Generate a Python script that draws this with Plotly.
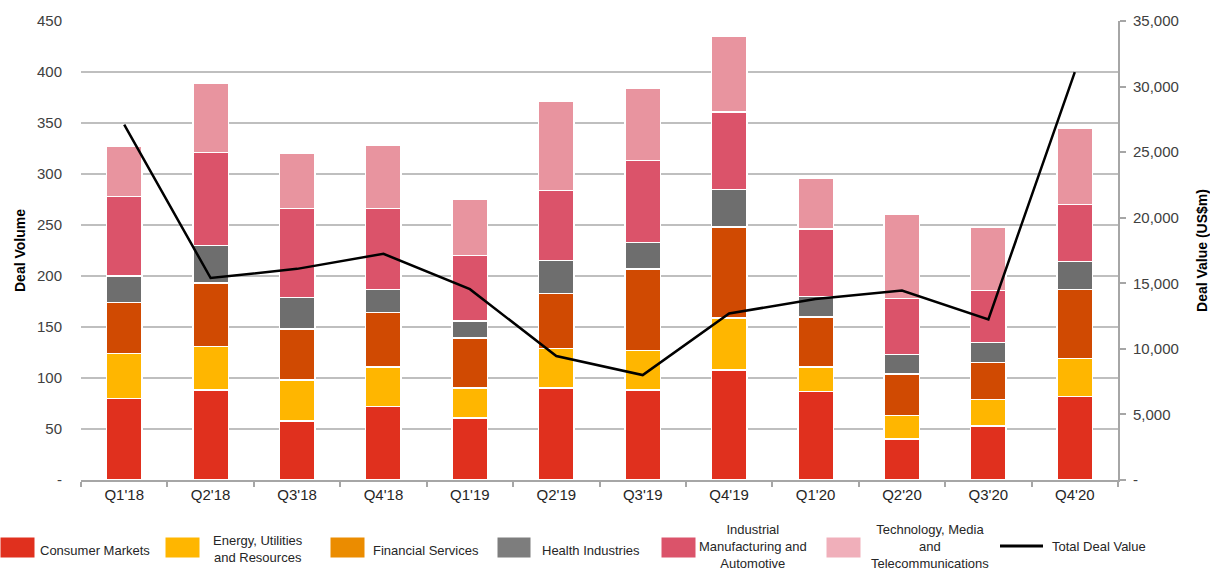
import plotly.graph_objects as go

quarters = ["Q1'18", "Q2'18", "Q3'18", "Q4'18", "Q1'19", "Q2'19", "Q3'19", "Q4'19", "Q1'20", "Q2'20", "Q3'20", "Q4'20"]
consumer = [80, 88, 58, 72, 61, 90, 88, 108, 87, 40, 53, 82]
energy = [44, 43, 40, 39, 29, 39, 39, 51, 24, 23, 26, 37]
financial = [50, 62, 50, 53, 49, 54, 80, 89, 49, 41, 36, 68]
health = [26, 37, 31, 23, 17, 32, 26, 37, 20, 19, 20, 27]
industrial = [78, 91, 87, 79, 64, 69, 80, 76, 66, 55, 51, 56]
tech = [49, 68, 54, 62, 55, 87, 71, 74, 50, 83, 62, 75]
deal_value = [27100, 15400, 16100, 17250, 14550, 9450, 8000, 12700, 13800, 14450, 12250, 31100]

left_ticks = [0, 50, 100, 150, 200, 250, 300, 350, 400, 450]
left_labels = ["-"] + [str(v) for v in left_ticks[1:]]
right_ticks = [0, 5000, 10000, 15000, 20000, 25000, 30000, 35000]
right_labels = ["-"] + [f"{v:,}" for v in right_ticks[1:]]

series = [
    ("Consumer Markets", consumer, "#E0301E", "#E0301E"),
    ("Energy, Utilities<br>and Resources", energy, "#FFB600", "#FFB600"),
    ("Financial Services", financial, "#D04A02", "#EB8C00"),
    ("Health Industries", health, "#6E6E6E", "#7D7D7D"),
    ("Industrial<br>Manufacturing and<br>Automotive", industrial, "#DB536A", "#DB536A"),
    ("Technology, Media<br>and<br>Telecommunications", tech, "#E8949F", "#F0AFBA"),
]

FONT = "Liberation Sans, Arial, sans-serif"
fig = go.Figure()
for name, vals, col, _ in series:
    fig.add_trace(go.Bar(x=quarters, y=vals, name=name, marker=dict(color=col, line=dict(color="white", width=1.5)),
                         width=0.41, showlegend=False))
fig.add_trace(go.Scatter(x=quarters, y=deal_value, yaxis="y2", mode="lines", line=dict(color="black", width=2.5),
                         name="Total Deal Value", showlegend=False))

W, H = 1210, 571
L, R, T, B = 81, 92, 21, 91
pw, ph = W - L - R, H - T - B

def px(x):
    return (x - L) / pw

def py(y):
    return (H - B - y) / ph

shapes = []
annotations = []
# custom legend (pixel positions converted to paper coords)
legend_items = [
    (0, 35, "Consumer Markets", 38, 550, "left"),
    (165, 200, "Energy, Utilities<br>and Resources", 258, 549, "center"),
    (330, 365, "Financial Services", 371, 550, "left"),
    (497, 531, "Health Industries", 540, 550, "left"),
    (661, 696, "Industrial<br>Manufacturing and<br>Automotive", 753, 546.5, "center"),
    (826, 861, "Technology, Media<br>and<br>Telecommunications", 930, 546.5, "center"),
]
for (x0, x1, txt, tx, ty, al), (_, _, _, lcol) in zip(legend_items, series):
    shapes.append(dict(type="rect", xref="paper", yref="paper", x0=px(x0), x1=px(x1), y0=py(558), y1=py(537),
                       fillcolor=lcol, line=dict(color="white", width=1)))
    annotations.append(dict(xref="paper", yref="paper", x=px(tx), y=py(ty), text=txt, showarrow=False,
                            xanchor="left" if al == "left" else "center", yanchor="middle", align=al,
                            font=dict(family=FONT, size=13, color="#262626")))
shapes.append(dict(type="line", xref="paper", yref="paper", x0=px(1000), x1=px(1043), y0=py(546), y1=py(546),
                   line=dict(color="black", width=3)))
annotations.append(dict(xref="paper", yref="paper", x=px(1050), y=py(546), text="Total Deal Value", showarrow=False,
                        xanchor="left", yanchor="middle", font=dict(family=FONT, size=13, color="#262626")))

fig.update_layout(
    width=W, height=H,
    barmode="stack",
    margin=dict(l=L, r=R, t=T, b=B, pad=0),
    paper_bgcolor="white", plot_bgcolor="white",
    font=dict(family=FONT, size=15, color="#404040"),
    showlegend=False,
    xaxis=dict(type="category", showline=True, linecolor="#A6A6A6", linewidth=2, ticks="outside",
               tickson="boundaries", tickcolor="#A6A6A6", ticklen=5, tickwidth=1.5, automargin=False,
               tickfont=dict(family=FONT, size=15, color="#262626"), showgrid=False),
    yaxis=dict(range=[0, 450], tickvals=left_ticks, ticktext=left_labels, showgrid=True, gridcolor="#BFBFBF",
               gridwidth=2, zeroline=False, showline=False, ticks="", ticklabelstandoff=18, automargin=False,
               tickfont=dict(family=FONT, size=15, color="#404040"),
               title=dict(text="<b>Deal Volume</b>", font=dict(family=FONT, size=14, color="black"), standoff=8)),
    yaxis2=dict(range=[0, 35000], overlaying="y", side="right", tickvals=right_ticks, ticktext=right_labels,
                showgrid=False, zeroline=False, showline=True, linecolor="#A6A6A6", linewidth=2, automargin=False,
                ticks="outside", ticklen=6, tickcolor="#A6A6A6", tickwidth=1.5, ticklabelstandoff=4,
                tickfont=dict(family=FONT, size=15, color="#404040"),
                title=dict(text="<b>Deal Value (US$m)</b>", font=dict(family=FONT, size=14, color="black"), standoff=26)),
    shapes=shapes,
    annotations=annotations,
)

fig.write_html("out.html")
